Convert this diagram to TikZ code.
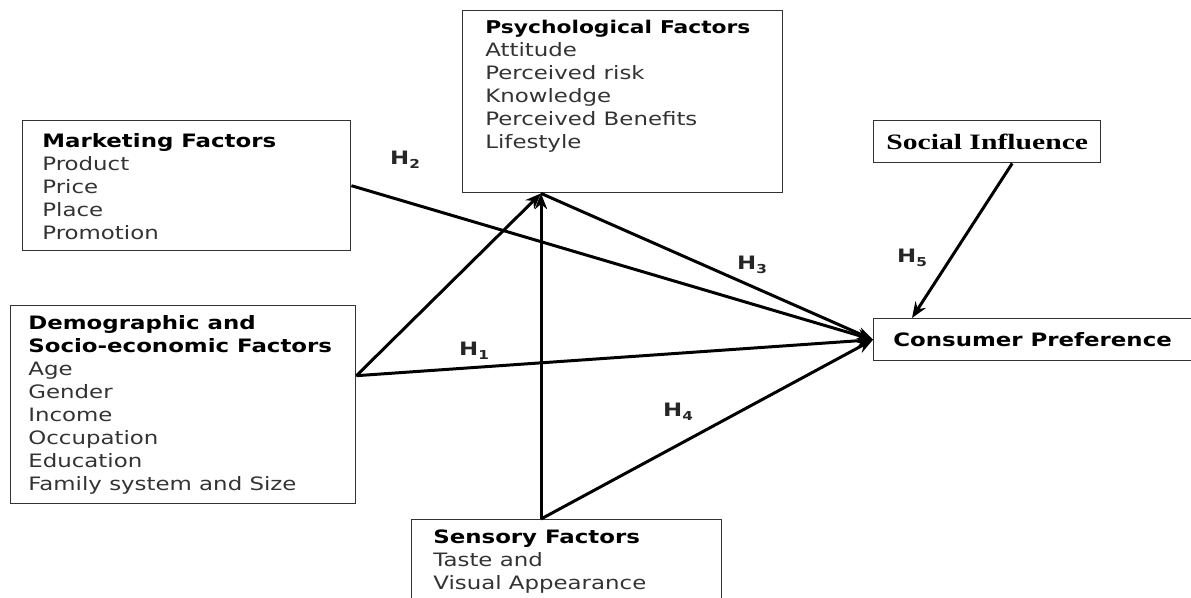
\documentclass[tikz,border=0pt]{standalone}
\usepackage{fontspec}
\setmainfont{DejaVu Sans}[FakeStretch=1.24]
\newfontfamily\timesfont{Liberation Serif}[FakeStretch=1.35]
\usetikzlibrary{arrows.meta}
\tikzset{factor/.style={draw=black!80, line width=0.8pt, anchor=north west, inner sep=0pt}}
\tikzset{factortext/.style={anchor=north west, align=left, inner sep=0pt, text=black!80, font=\fontsize{10.5}{13.1}\selectfont}, hyp/.style={inner sep=1pt, text=black!85, font=\fontsize{10.5}{12}\selectfont\bfseries}, link/.style={black, line width=1.7pt, -{Stealth[length=9pt, width=7pt]}}}
\newcommand{\hyplab}[1]{H\raisebox{-0.35ex}{\scriptsize #1}}

\begin{document}
\begin{tikzpicture}
   \clip (0,0) rectangle (23.82,-11.96);
   % boxes
   \node[factor, minimum width=6.4cm,  minimum height=3.64cm] (psych) at (9.24,-0.2) {};
   \node[factor, minimum width=6.56cm, minimum height=2.6cm]  (mkt)   at (0.44,-2.4) {};
   \node[factor, minimum width=6.9cm,  minimum height=3.96cm] (demo)  at (0.2,-6.1) {};
   \node[factor, minimum width=6.2cm,  minimum height=1.8cm]  (sens)  at (8.22,-10.38) {};
   \node[factor, minimum width=4.54cm, minimum height=0.84cm] (soc)   at (17.46,-2.4) {};
   \node[factor, minimum width=6.5cm,  minimum height=0.84cm] (cp)    at (17.46,-6.36) {};
   % box texts
   \node[factortext] (psych-t) at ([shift={(0.46,-0.2)}]psych.north west)
     {\textcolor{black}{\bfseries\fontsize{10}{13.1}\selectfont Psychological\hspace{0.45em}Factors}\\Attitude\\Perceived risk\\Knowledge\\Perceived Benefits\\Lifestyle};
   \node[factortext] (mkt-t) at ([shift={(0.4,-0.26)}]mkt.north west)
     {\textcolor{black}{\bfseries Marketing Factors}\\Product\\Price\\Place\\Promotion};
   \node[factortext] (demo-t) at ([shift={(0.36,-0.2)}]demo.north west)
     {\textcolor{black}{\bfseries Demographic and}\\\textcolor{black}{\bfseries Socio-economic Factors}\\Age\\Gender\\Income\\Occupation\\Education\\Family system and Size};
   \node[factortext] (sens-t) at ([shift={(0.44,-0.2)}]sens.north west)
     {\textcolor{black}{\bfseries Sensory Factors}\\Taste and\\Visual Appearance};
   \node[font=\timesfont\fontsize{12.5}{14}\selectfont\bfseries, inner sep=0pt] (soc-t) at (soc.center) {Social Influence};
   \node[factortext, anchor=west] (cp-t) at ([xshift=0.4cm]cp.west) {\textcolor{black}{\bfseries Consumer Preference}};
   % end points
   \coordinate (psych-in) at ([xshift=1.58cm]psych.south west);
   \coordinate (sens-out) at ([xshift=2.6cm]sens.north west);
   \coordinate (demo-out) at ([yshift=0.58cm]demo.east);
   \coordinate (soc-out)  at ([xshift=0.5cm]soc.south);
   \coordinate (cp-top)   at ([xshift=0.78cm]cp.north west);
   % links
   \draw[link] (mkt.east) -- (cp.west);
   \draw[link] (demo-out) -- (cp.west);
   \draw[link] (demo-out) -- (psych-in);
   \draw[link] (sens-out) -- (psych-in);
   \draw[link] (psych-in) -- (cp.west);
   \draw[link] (sens-out) -- (cp.west);
   \draw[link] (soc-out) -- (cp-top);
   % hypotheses
   \node[hyp] (h1) at (9.48,-7.02) {\hyplab{1}};
   \node[hyp] (h2) at (8.1,-3.2)   {\hyplab{2}};
   \node[hyp] (h3) at (15.04,-5.3) {\hyplab{3}};
   \node[hyp] (h4) at (13.56,-8.24) {\hyplab{4}};
   \node[hyp] (h5) at (18.24,-5.16) {\hyplab{5}};
\end{tikzpicture}
\end{document}
